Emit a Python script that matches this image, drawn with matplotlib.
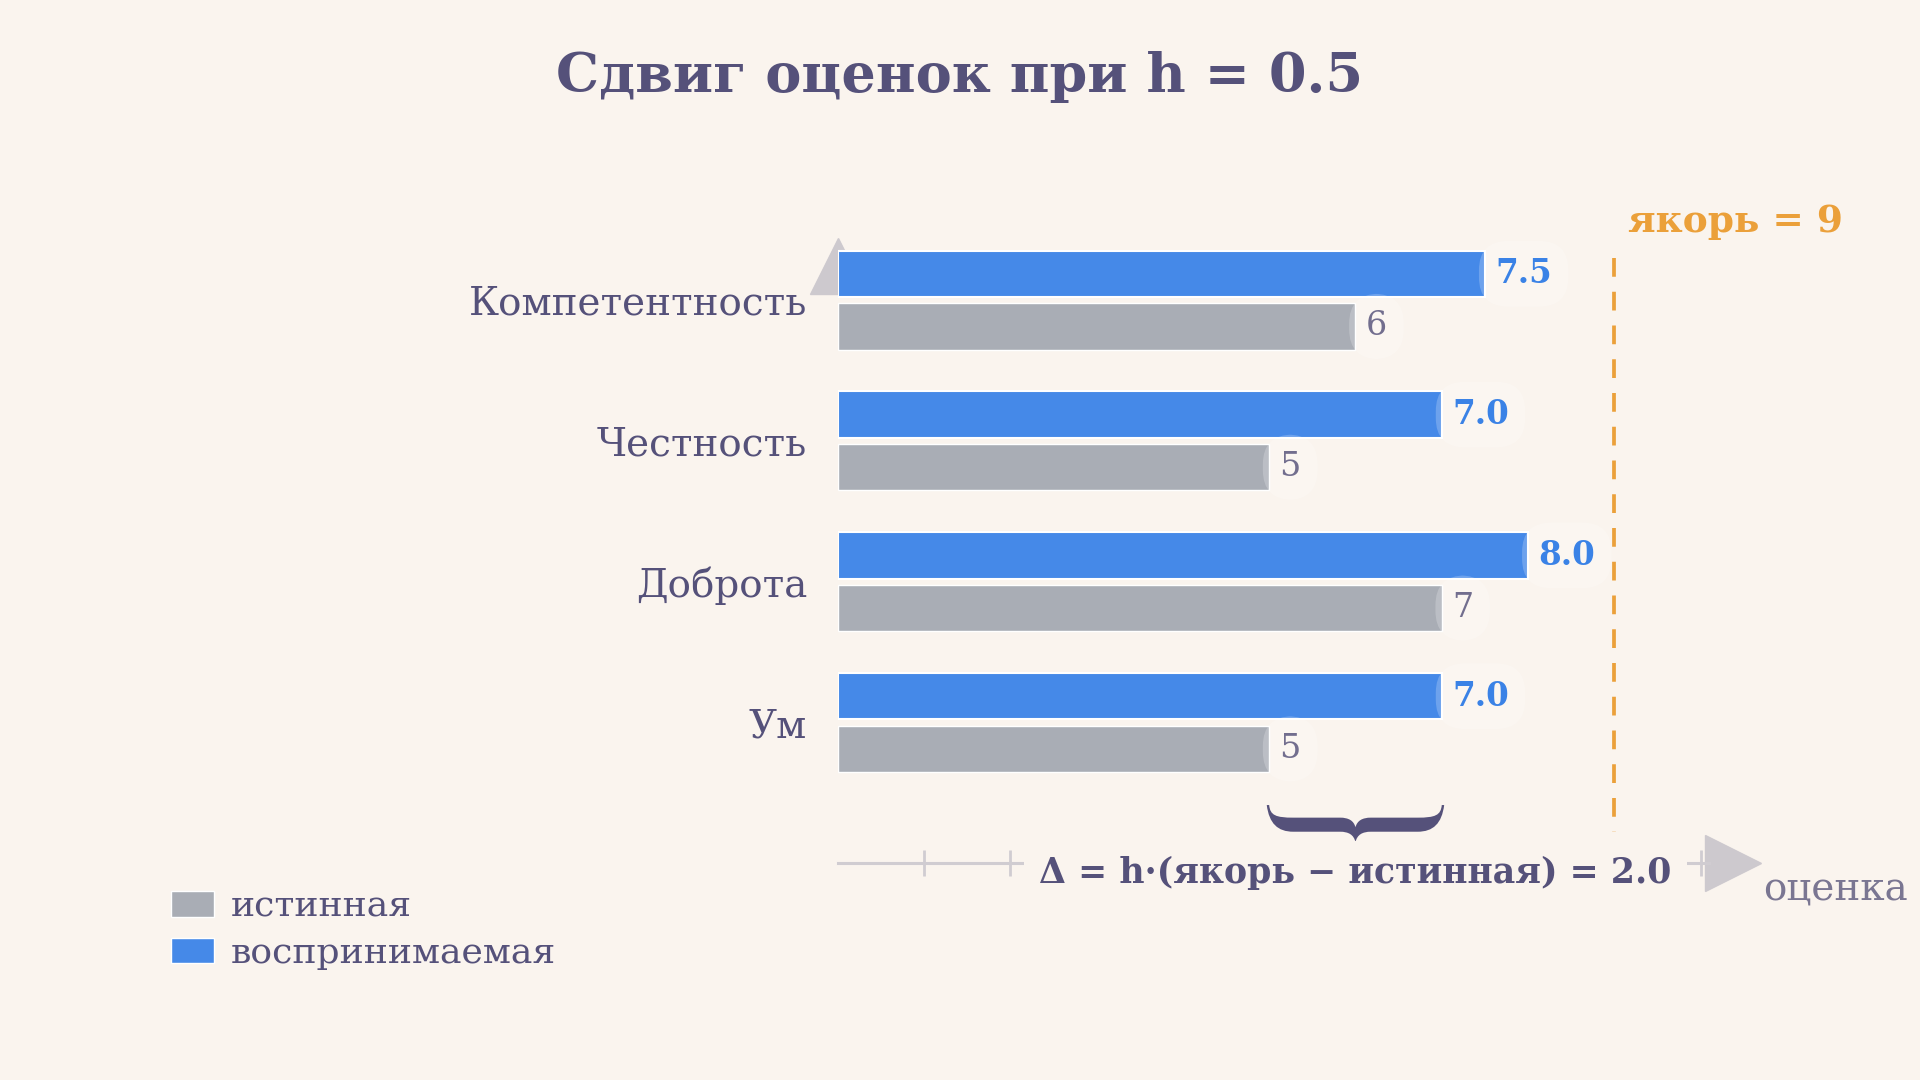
import numpy as np
import matplotlib
matplotlib.use("Agg")
import matplotlib.pyplot as plt
from matplotlib.path import Path
from matplotlib.patches import PathPatch, Patch

# data
traits = ["Компетентность", "Честность", "Доброта", "Ум"]
true_vals = [6, 5, 7, 5]
perceived_vals = [7.5, 7.0, 8.0, 7.0]
h = 0.5
anchor = 9
delta = 2.0

BG = "#FAF4EE"
INK = "#55517A"
BLUE = "#4589E8"
GRAY = "#A9ADB5"
ORANGE = "#EBA03A"
AXIS = "#D0CCD1"
SOFT = "#726E8E"

plt.rcParams["font.family"] = ["DejaVu Serif"]

fig = plt.figure(figsize=(19.2, 10.8), dpi=100, facecolor=BG)
ax = fig.add_axes([0.4363, 0.2006, 0.4944, 0.6128])
ax.set_facecolor("none")
ax.set_xlim(0, 11)
ax.set_ylim(-1, 3.7)

ypos = np.arange(len(traits))[::-1]
off, bh = 0.187, 0.33

ax.barh(ypos + off, perceived_vals, height=bh, color=BLUE, edgecolor="white",
        linewidth=1.5, zorder=3)
ax.barh(ypos - off, true_vals, height=bh, color=GRAY, edgecolor="white",
        linewidth=1.0, zorder=3)

# value labels sitting in a soft light box that overlaps the bar end
glow = dict(boxstyle="round,pad=0.5,rounding_size=0.9", facecolor="white",
            edgecolor="none", alpha=0.22)
for y, v in zip(ypos, perceived_vals):
    ax.text(v + 0.12, y + off, f"{v:.1f}", color="#3A82E6", fontsize=23.5,
            fontweight="bold", ha="left", va="center", zorder=5, bbox=glow)
for y, v in zip(ypos, true_vals):
    ax.text(v + 0.12, y - off, f"{v}", color=SOFT, fontsize=24,
            ha="left", va="center", zorder=5, bbox=glow)

# category labels
ax.set_yticks(ypos)
ax.set_yticklabels(traits, fontsize=28, color=INK)
ax.tick_params(axis="y", length=0, pad=22)

# x axis with arrow
for s in ["left", "top", "right"]:
    ax.spines[s].set_visible(False)
ax.spines["bottom"].set_color(AXIS)
ax.spines["bottom"].set_linewidth(2.2)
ax.spines["bottom"].set_bounds(0, 10.1)
ax.set_xticks(range(1, 11))
ax.set_xticklabels([])
ax.tick_params(axis="x", direction="inout", length=19, width=2, color=AXIS)
ax.plot([10.38], [-1], marker=">", ms=40, color="#CDC9CE", clip_on=False, zorder=2)
ax.plot([0], [3.24], marker="^", ms=40, color="#CDC9CE", clip_on=False, zorder=1)
ax.text(10.72, -1.19, "оценка", fontsize=28, color="#7A7692", ha="left", va="center")

# anchor line
ax.plot([anchor, anchor], [3.3, -0.78], color=ORANGE, lw=2.7, dashes=(5, 4), zorder=2)
ax.text(anchor + 0.16, 3.56, f"якорь = {anchor}", fontsize=27, fontweight="bold",
        color=ORANGE, ha="left", va="center")

# brace under the shift for "Ум"
x0, x1 = true_vals[3], perceived_vals[3]
top, hh = -0.586, 0.263
pts = [(0, 0), (0.005, 0.28), (0.04, 0.34), (0.14, 0.34), (0.41, 0.34),
       (0.46, 0.34), (0.49, 0.42), (0.5, 0.6),
       (0.51, 0.42), (0.54, 0.34), (0.59, 0.34), (0.86, 0.34),
       (0.96, 0.34), (0.995, 0.28), (1.0, 0.0), (1.014, 0.0),
       (1.0, 0.5), (0.95, 0.72), (0.86, 0.72), (0.59, 0.72),
       (0.54, 0.72), (0.51, 0.8), (0.5, 1.0),
       (0.49, 0.8), (0.46, 0.72), (0.41, 0.72), (0.14, 0.72),
       (0.05, 0.72), (0.0, 0.5), (-0.014, 0.0), (0, 0)]
codes = [Path.MOVETO, Path.CURVE4, Path.CURVE4, Path.CURVE4, Path.LINETO,
         Path.CURVE4, Path.CURVE4, Path.CURVE4,
         Path.CURVE4, Path.CURVE4, Path.CURVE4, Path.LINETO,
         Path.CURVE4, Path.CURVE4, Path.CURVE4, Path.LINETO,
         Path.CURVE4, Path.CURVE4, Path.CURVE4, Path.LINETO,
         Path.CURVE4, Path.CURVE4, Path.CURVE4,
         Path.CURVE4, Path.CURVE4, Path.CURVE4, Path.LINETO,
         Path.CURVE4, Path.CURVE4, Path.CURVE4, Path.CLOSEPOLY]
verts = [(x0 + u * (x1 - x0), top - v * hh) for u, v in pts]
ax.add_patch(PathPatch(Path(verts, codes), facecolor=INK, edgecolor="none", zorder=4))

ax.text((x0 + x1) / 2, -1.07, f"Δ = h·(якорь − истинная) = {delta:.1f}", fontsize=25,
        fontweight="bold", color=INK, ha="center", va="center", zorder=6,
        bbox=dict(boxstyle="square,pad=0.45", facecolor=BG, edgecolor="none"))

# title
fig.text(0.5, 0.915, f"Сдвиг оценок при h = {h}", fontsize=39, fontweight="bold",
         color=INK, ha="center", va="baseline")

# legend
handles = [Patch(facecolor=GRAY, edgecolor="white", label="истинная"),
           Patch(facecolor=BLUE, edgecolor="white", label="воспринимаемая")]
fig.legend(handles=handles, loc="center left", bbox_to_anchor=(0.072, 0.139),
           frameon=False, fontsize=26, labelcolor=INK, handlelength=1.2,
           handleheight=0.7, handletextpad=0.45, labelspacing=0.35)

fig.savefig("out.png", dpi=100, facecolor=BG)
